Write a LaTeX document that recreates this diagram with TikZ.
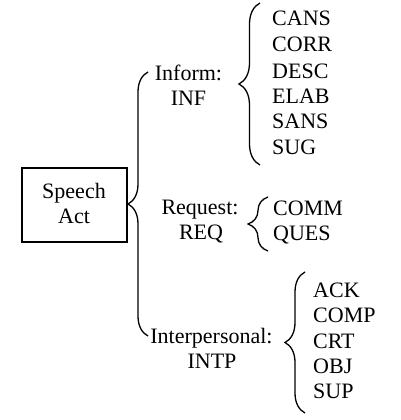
\documentclass[tikz,border=0pt]{standalone}
\usepackage{fontspec}
\setmainfont{Liberation Serif}
\usetikzlibrary{decorations.pathreplacing}
\begin{document}
\begin{tikzpicture}[x=1pt,y=-1pt,
  lbl/.style={font=\fontsize{22}{25}\selectfont, inner sep=0pt, anchor=base},
  itm/.style={lbl, anchor=base west},
  br/.style={decorate, decoration={brace, amplitude=#1}, line width=1.3pt},
  br/.default=20pt]
\useasboundingbox (0,0) rectangle (400,420);
% root box
\node[draw, line width=1.3pt, minimum width=105pt, minimum height=74pt, inner sep=0pt] (box) at (74.5,205) {};
\node[lbl] (sp) at (74,198) {Speech};
\node[lbl] (act) at (74,223) {Act};
% big brace
\coordinate (bb) at (148,336);
\coordinate (bt) at (148,72);
\draw[br] (bb) -- (bt);
% categories
\node[lbl] (inf1) at (188.5,80) {Inform:};
\node[lbl] (inf2) at (188.5,105) {INF};
\node[lbl] (req1) at (200,214) {Request:};
\node[lbl] (req2) at (201,239) {REQ};
\node[lbl] (int1) at (211.5,343) {Interpersonal:};
\node[lbl] (int2) at (212,368) {INTP};
% inform brace and items
\coordinate (ib) at (260,165);
\coordinate (it) at (260,3);
\draw[br=21pt] (ib) -- (it);
\node[itm] (cans) at (272,26) {CANS};
\node[itm] (corr) at (272,52) {CORR};
\node[itm] (desc) at (272,78) {DESC};
\node[itm] (elab) at (272,103) {ELAB};
\node[itm] (sans) at (272,128) {SANS};
\node[itm] (sug) at (272,154) {SUG};
% request brace and items
\coordinate (rb) at (268,251);
\coordinate (rt) at (268,197);
\draw[br] (rb) -- (rt);
\node[itm] (comm) at (273,215) {COMM};
\node[itm] (ques) at (273,240) {QUES};
% interpersonal brace and items
\coordinate (pb) at (305,413);
\coordinate (pt) at (305,272);
\draw[br] (pb) -- (pt);
\node[itm] (ack) at (313,297) {ACK};
\node[itm] (comp) at (313,322) {COMP};
\node[itm] (crt) at (313,348) {CRT};
\node[itm] (obj) at (313,373) {OBJ};
\node[itm] (sup) at (313,398) {SUP};
\end{tikzpicture}
\end{document}
